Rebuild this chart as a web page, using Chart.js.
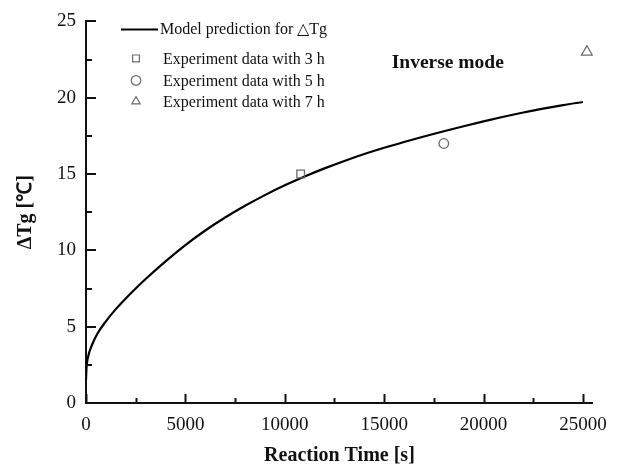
<!DOCTYPE html>
<html>
<head>
<meta charset="utf-8">
<script src="https://cdn.jsdelivr.net/npm/chart.js@4.4.1/dist/chart.umd.min.js"></script>
<style>
  html, body { margin: 0; padding: 0; background: #ffffff; }
  canvas { display: block; }
</style>
</head>
<body>
<canvas id="chart" width="618" height="466"></canvas>
<script>
// Model prediction of the glass-transition shift versus reaction time
const modelTime = [0, 25, 100, 300, 600, 1000, 1500, 2000, 2500, 3000, 4000, 5000, 6000, 7000, 8000, 9000,
  10000, 11000, 12000, 13000, 14000, 15000, 16000, 17000, 18000, 19000, 20000, 21000, 22000, 23000, 24000, 25000];
const modelDeltaTg = [1.5, 2.3, 3.0, 3.8, 4.6, 5.35, 6.15, 6.85, 7.5, 8.12, 9.28, 10.35, 11.3, 12.15, 12.92, 13.62,
  14.26, 14.84, 15.37, 15.86, 16.31, 16.72, 17.1, 17.46, 17.8, 18.13, 18.45, 18.75, 19.03, 19.29, 19.52, 19.72];
const modelLabel = 'Model prediction for \u25B3Tg';

// Measured points (3 h, 5 h, 7 h)
const expLabels = ['Experiment data with 3 h', 'Experiment data with 5 h', 'Experiment data with 7 h'];
const expTime = [10800, 18000, 25200];
const expDeltaTg = [15, 17, 23];
const expMarkers = ['rect', 'circle', 'triangle'];
const expRadius = [5.4, 4.8, 6.2];

// Axis ticks
const xMajorTicks = [0, 5000, 10000, 15000, 20000, 25000];
const xMinorTicks = [2500, 7500, 12500, 17500, 22500];
const yMajorTicks = [0, 5, 10, 15, 20, 25];
const yMinorTicks = [2.5, 7.5, 12.5, 17.5, 22.5];

const SERIF = "'Liberation Serif', 'Times New Roman', Times, serif";
const INK = '#111111';
const MARKER = '#6a6a6a';

Chart.defaults.font.family = SERIF;
Chart.defaults.color = INK;

const datasets = [{
  type: 'line',
  label: modelLabel,
  data: modelTime.map((t, i) => ({ x: t, y: modelDeltaTg[i] })),
  borderColor: '#000000',
  borderWidth: 2.2,
  pointRadius: 0,
  cubicInterpolationMode: 'monotone',
  fill: false,
  order: 2
}];
expLabels.forEach((label, i) => {
  datasets.push({
    type: 'scatter',
    label: label,
    data: [{ x: expTime[i], y: expDeltaTg[i] }],
    pointStyle: expMarkers[i],
    pointRadius: expRadius[i],
    pointBorderWidth: 1.3,
    borderColor: MARKER,
    backgroundColor: 'rgba(255,255,255,0)',
    order: 1
  });
});

// Inward tick marks on both axes, placed through the scales
const inwardTicks = {
  id: 'inwardTicks',
  afterDatasetsDraw(chart) {
    const { ctx, scales: { x, y }, chartArea } = chart;
    ctx.save();
    ctx.strokeStyle = INK;
    ctx.lineWidth = 2;
    const hTick = (v, len) => {
      const px = Math.round(x.getPixelForValue(v)) + 0.5;
      ctx.beginPath(); ctx.moveTo(px, chartArea.bottom); ctx.lineTo(px, chartArea.bottom - len); ctx.stroke();
    };
    const vTick = (v, len) => {
      const py = Math.round(y.getPixelForValue(v));
      ctx.beginPath(); ctx.moveTo(chartArea.left, py); ctx.lineTo(chartArea.left + len, py); ctx.stroke();
    };
    xMajorTicks.forEach(v => hTick(v, 9));
    xMinorTicks.forEach(v => hTick(v, 5));
    yMajorTicks.forEach(v => vTick(v, 10));
    yMinorTicks.forEach(v => vTick(v, 6));
    ctx.restore();
  }
};

function drawMarker(ctx, style, cx, cy, r) {
  ctx.beginPath();
  if (style === 'rect') {
    const s = r * Math.SQRT1_2;
    ctx.rect(cx - s, cy - s, 2 * s, 2 * s);
  } else if (style === 'circle') {
    ctx.arc(cx, cy, r, 0, Math.PI * 2);
  } else {
    ctx.moveTo(cx, cy - r);
    ctx.lineTo(cx + r * Math.sin(Math.PI / 3), cy + r / 2);
    ctx.lineTo(cx - r * Math.sin(Math.PI / 3), cy + r / 2);
    ctx.closePath();
  }
  ctx.stroke();
}

// Legend in the upper-left corner plus the mode annotation
const innerLegend = {
  id: 'innerLegend',
  afterDraw(chart) {
    const { ctx, chartArea, scales: { x, y } } = chart;
    const ds = chart.data.datasets;
    ctx.save();
    ctx.font = '16px ' + SERIF;
    ctx.fillStyle = INK;
    ctx.textBaseline = 'middle';
    ctx.textAlign = 'left';
    const left = chartArea.left;
    const top = chartArea.top;
    // line entry
    ctx.strokeStyle = '#000000';
    ctx.lineWidth = 2;
    ctx.beginPath();
    ctx.moveTo(left + 35, top + 8);
    ctx.lineTo(left + 72, top + 8);
    ctx.stroke();
    ctx.fillText(ds[0].label, left + 74, top + 8);
    // marker entries
    const rows = [top + 37, top + 59, top + 80];
    ctx.strokeStyle = MARKER;
    ctx.lineWidth = 1.2;
    for (let i = 1; i < ds.length; i++) {
      drawMarker(ctx, ds[i].pointStyle, left + 50, rows[i - 1], 4.8);
      ctx.fillText(ds[i].label, left + 77, rows[i - 1] + 1);
    }
    // mode annotation
    ctx.font = 'bold 19.5px ' + SERIF;
    ctx.textAlign = 'center';
    ctx.fillText('Inverse mode', x.getPixelForValue(18200), y.getPixelForValue(22.3));
    ctx.restore();
  }
};

new Chart(document.getElementById('chart'), {
  data: { datasets },
  options: {
    responsive: false,
    animation: false,
    devicePixelRatio: 1,
    layout: { padding: { left: 0, top: 21, right: 16, bottom: 0 } },
    plugins: {
      legend: { display: false },
      tooltip: { enabled: false }
    },
    scales: {
      x: {
        type: 'linear',
        min: 0,
        max: 25500,
        afterBuildTicks: s => { s.ticks = xMajorTicks.map(v => ({ value: v })); },
        afterFit: s => { s.height = 63; },
        ticks: {
          padding: 11,
          font: { size: 19 },
          color: INK,
          callback: v => String(v)
        },
        grid: { display: false, drawTicks: false },
        border: { display: true, color: INK, width: 2 },
        title: {
          display: true,
          text: 'Reaction Time [s]',
          color: INK,
          font: { size: 20, weight: 'bold', lineHeight: 1 },
          padding: { top: 0, bottom: 0 }
        }
      },
      y: {
        type: 'linear',
        min: 0,
        max: 25,
        afterBuildTicks: s => { s.ticks = yMajorTicks.map(v => ({ value: v })); },
        afterFit: s => { s.width = 86; },
        ticks: {
          padding: 10,
          font: { size: 19 },
          color: INK
        },
        grid: { display: false, drawTicks: false },
        border: { display: true, color: INK, width: 2 },
        title: {
          display: true,
          text: '\u0394Tg [\u2103]',
          color: INK,
          font: { size: 20, weight: 'bold', lineHeight: 1 },
          padding: { top: 16, bottom: 0 }
        }
      }
    }
  },
  plugins: [inwardTicks, innerLegend]
});
</script>
</body>
</html>
